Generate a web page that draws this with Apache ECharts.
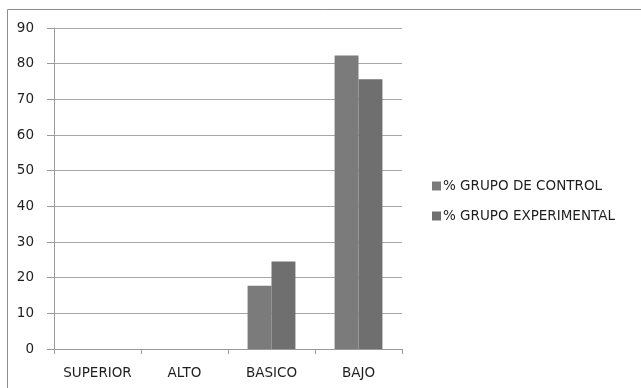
<!DOCTYPE html>
<html>
<head>
<meta charset="utf-8">
<script src="https://cdn.jsdelivr.net/npm/echarts@6/dist/echarts.min.js"></script>
<style>
  html, body { margin: 0; padding: 0; background: #fff; }
  #chart { width: 641px; height: 388px; }
</style>
</head>
<body>
<div id="chart"></div>
<script>
// Performance levels and the share (%) of each group in them
const categories = ['SUPERIOR', 'ALTO', 'BASICO', 'BAJO'];
const controlGroup = [0, 0, 17.7, 82.3];
const experimentalGroup = [0, 0, 24.5, 75.6];
const yTicks = { min: 0, max: 90, interval: 10 };

const FONT = 'DejaVu Sans';
const TEXT = '#1e1e1e';
const SIZE = 13.5;

const chart = echarts.init(document.getElementById('chart'), null, { renderer: 'canvas' });
chart.setOption({
  animation: false,
  backgroundColor: '#fff',
  graphic: [{
    type: 'rect',
    shape: { x: 7.5, y: 9.5, width: 700, height: 400 },
    style: { fill: 'none', stroke: '#8c8c8c', lineWidth: 1 },
    silent: true
  }],
  grid: { left: 54, right: 239, top: 28, bottom: 39 },
  legend: {
    orient: 'vertical',
    left: 427,
    top: 174,
    itemWidth: 9,
    itemHeight: 9,
    itemGap: 16,
    icon: 'rect',
    textStyle: { fontFamily: FONT, fontSize: SIZE, color: TEXT, padding: [0, 0, 0, -3] }
  },
  xAxis: {
    type: 'category',
    data: categories,
    axisLine: { lineStyle: { color: '#9a9a9a' } },
    axisTick: { show: true, interval: 0, length: 5, lineStyle: { color: '#9a9a9a' } },
    axisLabel: { interval: 0, fontFamily: FONT, fontSize: SIZE, color: TEXT, margin: 17 }
  },
  yAxis: {
    type: 'value',
    min: yTicks.min,
    max: yTicks.max,
    interval: yTicks.interval,
    axisLine: { show: true, lineStyle: { color: '#9a9a9a' } },
    axisTick: { show: true, length: 7, lineStyle: { color: '#9a9a9a' } },
    axisLabel: { fontFamily: FONT, fontSize: SIZE, color: TEXT, margin: 20 },
    splitLine: { lineStyle: { color: '#a6a6a6' } }
  },
  series: [
    {
      name: '% GRUPO DE CONTROL',
      type: 'bar',
      data: controlGroup,
      barGap: '0%',
      barCategoryGap: '45%',
      itemStyle: { color: '#7b7b7b' }
    },
    {
      name: '% GRUPO EXPERIMENTAL',
      type: 'bar',
      data: experimentalGroup,
      itemStyle: { color: '#6f6f6f' }
    }
  ]
});
</script>
</body>
</html>
